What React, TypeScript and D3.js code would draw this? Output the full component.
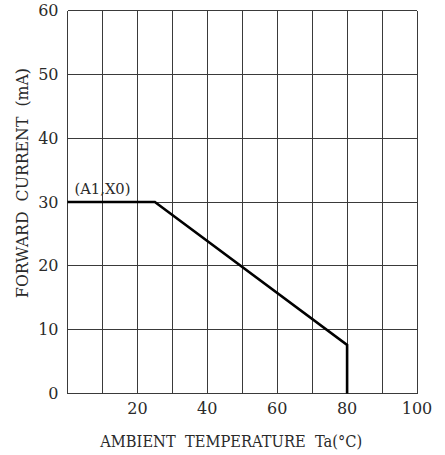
import React from 'react';
import * as d3 from 'd3';

const temperature = [0, 25, 80, 80];
const forwardCurrent = [30, 30, 7.6, 0];
const xTickValues = [20, 40, 60, 80, 100];
const xGridValues = [0, 10, 20, 30, 40, 50, 60, 70, 80, 90, 100];
const yTickValues = [0, 10, 20, 30, 40, 50, 60];
const annotation = '(A1,X0)';
const xTitle = 'AMBIENT  TEMPERATURE  Ta(°C)';
const yTitle = 'FORWARD  CURRENT  (mA)';

const W = 445;
const H = 455;
const M = { left: 67.5, right: 28, top: 10.5, bottom: 61.5 };

export default function App() {
  const x = d3.scaleLinear().domain([0, 100]).range([M.left, W - M.right]);
  const y = d3.scaleLinear().domain([0, 60]).range([H - M.bottom, M.top]);
  const line = d3
    .line<number>()
    .x((_, i) => x(temperature[i]))
    .y((d) => y(d));
  const font = 'DejaVu Serif';
  const gridColor = '#3a3a3a';
  const textColor = '#2a2a2a';
  return (
    <div style={{ position: 'absolute', left: 0, top: 0 }}>
      <svg width={W} height={H} style={{ display: 'block', background: '#fff' }}>
        <g shapeRendering="crispEdges">
          {xGridValues.map((v) => (
            <line key={'xg' + v} x1={x(v)} x2={x(v)} y1={y(0)} y2={y(60)} stroke={gridColor} strokeWidth={1} />
          ))}
          {yTickValues.map((v) => (
            <line key={'yg' + v} x1={x(0)} x2={x(100)} y1={y(v)} y2={y(v)} stroke={gridColor} strokeWidth={1} />
          ))}
        </g>
        <path d={line(forwardCurrent) || ''} fill="none" stroke="#000" strokeWidth={2.6} strokeLinejoin="miter" />
        {yTickValues.map((v) => (
          <text key={'yt' + v} x={x(0) - 9} y={y(v)} dy="0.35em" textAnchor="end" fontFamily={font} fontSize={16} fill={textColor}>
            {v}
          </text>
        ))}
        {xTickValues.map((v) => (
          <text key={'xt' + v} x={x(v)} y={y(0) + 20} textAnchor="middle" fontFamily={font} fontSize={16} fill={textColor}>
            {v}
          </text>
        ))}
        <text
          x={x(2)}
          y={y(30) - 8}
          fontFamily={font}
          fontSize={15}
          fill={textColor}
          textLength={56}
          lengthAdjust="spacingAndGlyphs"
        >
          {annotation}
        </text>
        <text
          x={(x(0) + x(100)) / 2 - 11}
          y={H - 8}
          textAnchor="middle"
          fontFamily={font}
          fontSize={16.5}
          fill={textColor}
          textLength={262}
          lengthAdjust="spacingAndGlyphs"
          style={{ whiteSpace: 'pre' }}
        >
          {xTitle}
        </text>
        <text
          transform={`translate(28, ${(y(0) + y(60)) / 2 - 19}) rotate(-90)`}
          textAnchor="middle"
          fontFamily={font}
          fontSize={16.5}
          fill={textColor}
          textLength={230}
          lengthAdjust="spacingAndGlyphs"
          style={{ whiteSpace: 'pre' }}
        >
          {yTitle}
        </text>
      </svg>
    </div>
  );
}
